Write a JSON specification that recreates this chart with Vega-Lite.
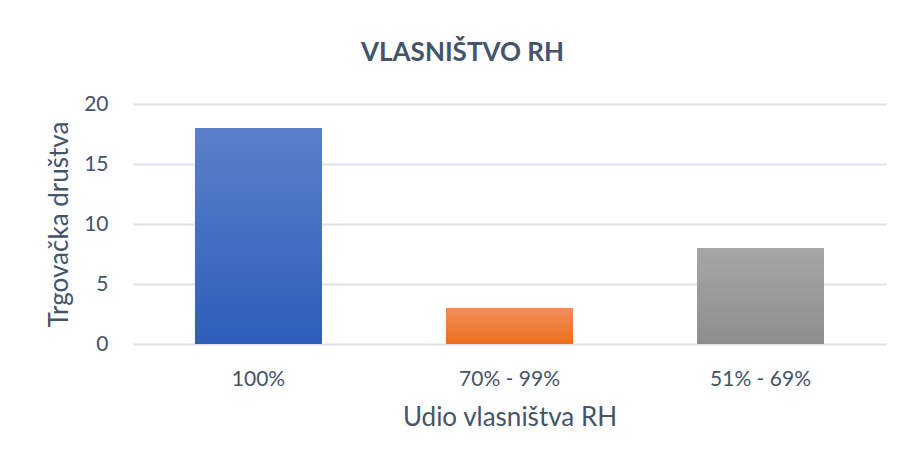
{
  "$schema": "https://vega.github.io/schema/vega-lite/v6.json",
  "width": 753,
  "height": 240,
  "autosize": {"type": "none"},
  "padding": {"left": 133, "top": 104, "right": 15, "bottom": 114},
  "background": "white",
  "title": {
    "text": "VLASNIŠTVO RH",
    "font": "Lato",
    "fontSize": 26,
    "fontWeight": "bold",
    "color": "#44546A",
    "anchor": "middle",
    "dx": -47,
    "offset": 27
  },
  "data": {
    "values": [
      {"udio": "100%", "broj": 18},
      {"udio": "70% - 99%", "broj": 3},
      {"udio": "51% - 69%", "broj": 8}
    ]
  },
  "mark": {"type": "bar"},
  "encoding": {
    "x": {
      "field": "udio",
      "type": "nominal",
      "sort": null,
      "scale": {"paddingInner": 0.494, "paddingOuter": 0.247},
      "axis": {
        "title": "Udio vlasništva RH",
        "labelAngle": 0,
        "domain": false,
        "ticks": false,
        "labelPadding": 24,
        "titlePadding": 15
      }
    },
    "y": {
      "field": "broj",
      "type": "quantitative",
      "scale": {"domain": [0, 20]},
      "axis": {
        "title": "Trgovačka društva",
        "values": [0, 5, 10, 15, 20],
        "domain": false,
        "ticks": false,
        "labelPadding": 25,
        "titlePadding": 11
      }
    },
    "fill": {
      "condition": [
        {"test": "datum.udio === '100%'", "value": {"gradient": "linear", "x1": 0, "y1": 0, "x2": 0, "y2": 1, "stops": [{"offset": 0, "color": "#5B80C9"}, {"offset": 1, "color": "#2E5EBA"}]}},
        {"test": "datum.udio === '70% - 99%'", "value": {"gradient": "linear", "x1": 0, "y1": 0, "x2": 0, "y2": 1, "stops": [{"offset": 0, "color": "#F08E56"}, {"offset": 1, "color": "#EA6E1C"}]}}
      ],
      "value": {"gradient": "linear", "x1": 0, "y1": 0, "x2": 0, "y2": 1, "stops": [{"offset": 0, "color": "#A6A6A6"}, {"offset": 1, "color": "#8E8E8E"}]}
    }
  },
  "config": {
    "view": {"stroke": null},
    "axis": {
      "labelFont": "Lato",
      "labelFontSize": 21,
      "labelColor": "#44546A",
      "titleFont": "Lato",
      "titleFontSize": 26,
      "titleFontWeight": "normal",
      "titleColor": "#44546A",
      "gridColor": "#DDE2E9",
      "gridWidth": 2
    }
  }
}
